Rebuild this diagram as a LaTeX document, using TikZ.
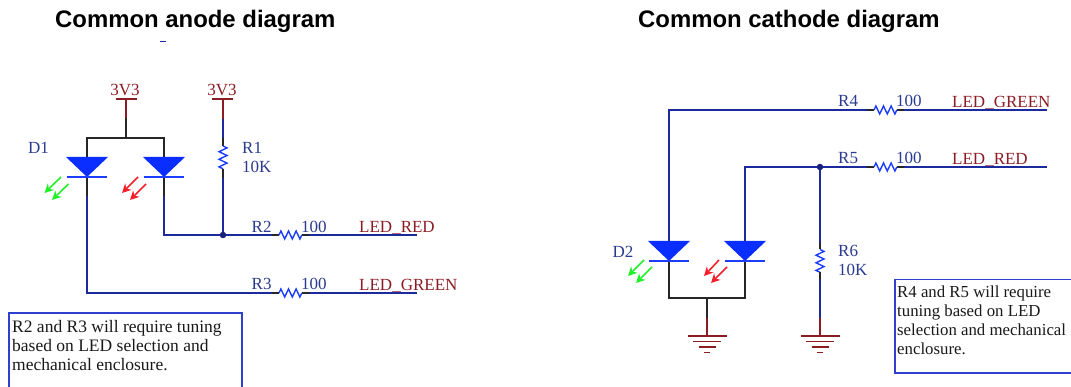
\documentclass[tikz,border=0pt]{standalone}
\usepackage{fontspec}
\setmainfont{Liberation Serif}
\newfontfamily\titlefont{Liberation Sans}
\usetikzlibrary{arrows.meta}
\definecolor{wireblue}{HTML}{1B2B9E}
\definecolor{zigblue}{HTML}{1C3CFF}
\definecolor{diodeblue}{HTML}{0A2EFF}
\definecolor{pinred}{HTML}{8C1C24}
\definecolor{refblue}{HTML}{2A3A8E}
\definecolor{ledgreen}{HTML}{22F02A}
\definecolor{ledred}{HTML}{F5202A}
\definecolor{boxblue}{HTML}{2F3FCF}
\tikzset{
  wire/.style={draw=wireblue,line width=1.9pt},
  stub/.style={draw=black!85,line width=1.9pt},
  pinwire/.style={draw=pinred,line width=1.9pt},
  zigzag/.style={draw=zigblue,line width=1.4pt,line join=miter},
  ref/.style={text=refblue,font=\fontsize{17}{19}\selectfont,anchor=base,inner sep=0pt},
  refw/.style={ref,anchor=base west},
  pinlabel/.style={text=pinred,font=\fontsize{17}{19}\selectfont,anchor=base,inner sep=0pt},
  netlabel/.style={pinlabel,anchor=base west},
  titletext/.style={font=\titlefont\bfseries\fontsize{23.9}{26}\selectfont,anchor=base west,inner sep=0pt},
  note/.style={anchor=north west,inner sep=0pt,align=left,text=black!90},
  notel/.style={note,font=\fontsize{17.5}{19}\selectfont},
  noter/.style={note,font=\fontsize{16.8}{19}\selectfont},
  notebox/.style={draw=boxblue,line width=1.8pt},
  dot/.style={circle,fill=wireblue!80!black,inner sep=0pt,minimum size=6.5pt},
  ledg/.style={draw=ledgreen,line width=1.6pt,-{Stealth[length=9pt,width=9pt]}},
  ledr/.style={draw=ledred,line width=1.6pt,-{Stealth[length=9pt,width=9pt]}},
}
\newcommand{\hzig}[1]{\draw[zigzag] (#1) -- ++(1.9,-4) -- ++(3.8,8) -- ++(3.8,-8) -- ++(3.8,8) -- ++(3.8,-8) -- ++(3.8,8) -- ++(1.9,-4);}
\newcommand{\vzig}[1]{\draw[zigzag] (#1) -- ++(4,1.9) -- ++(-8,3.8) -- ++(8,3.8) -- ++(-8,3.8) -- ++(8,3.8) -- ++(-8,3.8) -- ++(4,1.9);}
\newcommand{\ledsym}[2]{% apex coordinate, name
  \fill[diodeblue] (#1)++(-21,-20) -- ++(42,0) -- (#1) -- cycle;
  \draw[zigblue,line width=1.7pt] (#1)++(-20,0) -- ++(40,0);
}
\newcommand{\gndsym}[1]{%
  \draw[pinred,line width=1.8pt] (#1)++(-19.5,0) -- ++(39,0);
  \draw[pinred,line width=1.8pt] (#1)++(-14,5.5) -- ++(28,0);
  \draw[pinred,line width=1.8pt] (#1)++(-8.5,11) -- ++(17,0);
  \draw[pinred,line width=1.8pt] (#1)++(-3,16.5) -- ++(6,0);
}
\begin{document}
\begin{tikzpicture}[x=1pt,y=-1pt]
\useasboundingbox (0,0) rectangle (1071,387);
% titles
\node[titletext] (t1) at (55,28) {Common anode diagram};
\node[titletext] (t2) at (638,28) {Common cathode diagram};
\draw[wireblue,line width=1pt] (160,41.5) -- (166,41.5);
% left labels
\node[pinlabel] (p1) at (125,96) {3V3};
\node[pinlabel] (p2) at (222,96) {3V3};
\node[ref] (d1) at (38.5,154) {D1};
\node[refw] (r1a) at (242,154) {R1};
\node[refw] (r1b) at (242,173) {10K};
\node[refw] (r2a) at (251.5,232.5) {R2};
\node[refw] (r2b) at (301,232.5) {100};
\node[refw] (r3a) at (251.5,290) {R3};
\node[refw] (r3b) at (301,290) {100};
\node[netlabel] (n1) at (359,233) {LED\_RED};
\node[netlabel] (n2) at (359,290.5) {LED\_GREEN};
% right labels
\node[ref] (d2) at (623,258) {D2};
\node[refw] (r6a) at (838,257) {R6};
\node[refw] (r6b) at (838,276) {10K};
\node[refw] (r4a) at (838,107) {R4};
\node[refw] (r4b) at (896,107) {100};
\node[refw] (r5a) at (838,164) {R5};
\node[refw] (r5b) at (896,164) {100};
\node[netlabel] (n3) at (952,107.5) {LED\_GREEN};
\node[netlabel] (n4) at (952,164.5) {LED\_RED};
% left coordinates
\coordinate (a1) at (126,99);
\coordinate (a2) at (126,118);
\coordinate (a3) at (126,138);
\coordinate (da) at (87,177);
\coordinate (db) at (164,177);
\coordinate (dat) at (87,138);
\coordinate (dbt) at (164,138);
\coordinate (da2) at (87,196);
\coordinate (db2) at (164,196);
\coordinate (da3) at (87,293);
\coordinate (db3) at (164,235);
\coordinate (b1) at (223,99);
\coordinate (b2) at (223,119);
\coordinate (b3) at (223,138);
\coordinate (b4) at (223,146);
\coordinate (b5) at (223,169);
\coordinate (b6) at (223,178);
\coordinate (j1) at (223,235);
\coordinate (z2a) at (272,235);
\coordinate (z2b) at (279,235);
\coordinate (z2c) at (302,235);
\coordinate (z2d) at (309,235);
\coordinate (e2) at (417,235);
\coordinate (z3a) at (272,293);
\coordinate (z3b) at (279,293);
\coordinate (z3c) at (302,293);
\coordinate (z3d) at (309,293);
\coordinate (e3) at (417,293);
% left wires
\draw[pinwire] (a1) -- (a2);
\draw[pinwire] (115.5,99) -- (136.5,99);
\draw[stub] (a2) -- (a3);
\draw[stub] (da2) -- (da) -- (dat) -- (dbt) -- (db) -- (db2);
\draw[wire] (da2) -- (da3) -- (z3a);
\draw[wire] (db2) -- (db3) -- (j1) -- (z2a);
\draw[stub] (z2a) -- (z2b);
\draw[stub] (z2c) -- (z2d);
\draw[wire] (z2d) -- (e2);
\draw[stub] (z3a) -- (z3b);
\draw[stub] (z3c) -- (z3d);
\draw[wire] (z3d) -- (e3);
\hzig{z2b}
\hzig{z3b}
\draw[pinwire] (b1) -- (b2);
\draw[pinwire] (212,99) -- (233,99);
\draw[wire] (b2) -- (b3);
\draw[stub] (b3) -- (b4);
\vzig{b4}
\draw[stub] (b5) -- (b6);
\draw[wire] (b6) -- (j1);
\node[dot] (jn1) at (j1) {};
\ledsym{da}{D1}
\ledsym{db}{D1b}
\draw[ledg] (61,177) -- (44.5,193);
\draw[ledg] (68.5,184) -- (52,200);
\draw[ledr] (138,177) -- (122,193);
\draw[ledr] (146,184) -- (130,200);
% right coordinates
\coordinate (c1) at (669,110);
\coordinate (c2) at (669,241);
\coordinate (c3) at (745,167);
\coordinate (c4) at (745,241);
\coordinate (j2) at (820,167);
\coordinate (dc) at (669,261);
\coordinate (dd) at (745,261);
\coordinate (dc2) at (669,298);
\coordinate (dd2) at (745,298);
\coordinate (g0) at (707,298);
\coordinate (g1) at (707,318);
\coordinate (g2) at (707,336);
\coordinate (z4a) at (867,110);
\coordinate (z4b) at (874,110);
\coordinate (z4c) at (897,110);
\coordinate (z4d) at (904,110);
\coordinate (e4) at (1047,110);
\coordinate (z5a) at (867,167);
\coordinate (z5b) at (874,167);
\coordinate (z5c) at (897,167);
\coordinate (z5d) at (904,167);
\coordinate (e5) at (1047,167);
\coordinate (h1) at (820,243);
\coordinate (h2) at (820,249.5);
\coordinate (h3) at (820,272.5);
\coordinate (h4) at (820,279);
\coordinate (h5) at (820,318);
\coordinate (h6) at (820,336);
% right wires
\draw[wire] (c2) -- (c1) -- (z4a);
\draw[stub] (z4a) -- (z4b);
\draw[stub] (z4c) -- (z4d);
\draw[wire] (z4d) -- (e4);
\draw[wire] (c4) -- (c3) -- (j2) -- (z5a);
\draw[stub] (z5a) -- (z5b);
\draw[stub] (z5c) -- (z5d);
\draw[wire] (z5d) -- (e5);
\hzig{z4b}
\hzig{z5b}
\draw[stub] (c2) -- (dc) -- (dc2) -- (dd2) -- (dd) -- (c4);
\draw[stub] (g0) -- (g1);
\draw[pinwire] (g1) -- (g2);
\gndsym{g2}
\draw[wire] (j2) -- (h1);
\draw[stub] (h1) -- (h2);
\vzig{h2}
\draw[stub] (h3) -- (h4);
\draw[wire] (h4) -- (h5);
\draw[pinwire] (h5) -- (h6);
\gndsym{h6}
\node[dot] (jn2) at (j2) {};
\ledsym{dc}{D2}
\ledsym{dd}{D2b}
\draw[ledg] (644,260) -- (628,276);
\draw[ledg] (652,267) -- (636,283);
\draw[ledr] (719,260) -- (704,276);
\draw[ledr] (727,267) -- (711,283);
% note boxes
\coordinate (bl1) at (9,388);
\coordinate (bl2) at (9,313);
\coordinate (bl3) at (242,313);
\coordinate (bl4) at (242,388);
\draw[notebox] (bl1) -- (bl2) -- (bl3) -- (bl4);
\node[notel] (nt1) at (12,320) {R2 and R3 will require tuning\\based on LED selection and\\mechanical enclosure.};
\coordinate (br1) at (1072,279.5);
\coordinate (br2) at (895,279.5);
\coordinate (br3) at (895,373);
\coordinate (br4) at (1072,373);
\draw[notebox] (br1) -- (br2) -- (br3) -- (br4);
\node[noter] (nt2) at (897,285.5) {R4 and R5 will require\\tuning based on LED\\selection and mechanical\\enclosure.};
\end{tikzpicture}
\end{document}
